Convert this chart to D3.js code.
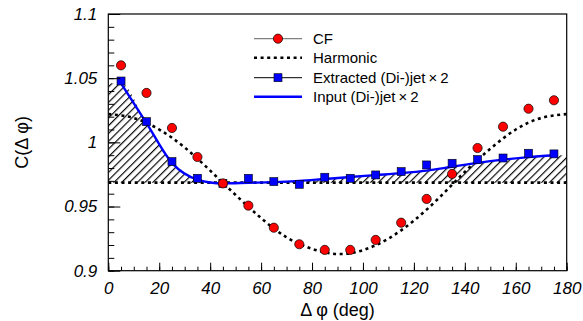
<!DOCTYPE html>
<html><head><meta charset="utf-8">
<script src="https://cdn.jsdelivr.net/npm/d3@7"></script>
<style>
html,body{margin:0;padding:0;background:#fff;}
svg{display:block;font-family:"Liberation Sans",Arial,Helvetica,sans-serif;}
</style></head>
<body>
<svg id="c" width="583" height="321"></svg>
<script>
// ---- data ----
const phi = [5,15,25,35,45,55,65,75,85,95,105,115,125,135,145,155,165,175];
const cfValues = [1.060,1.0385,1.0112,0.9886,0.968,0.9507,0.9335,0.9206,0.9162,0.9162,0.924,0.9374,0.9559,0.9754,0.9956,1.0122,1.0262,1.0328];
const extractedValues = [1.0478,1.0161,0.9850,0.9720,0.9680,0.9720,0.9694,0.9673,0.9728,0.9720,0.9746,0.9772,0.9824,0.9837,0.9866,0.9878,0.9915,0.9910];
const inputValues = [1.046,1.015,0.984,0.971,0.968,0.9685,0.969,0.970,0.9715,0.973,0.9745,0.976,0.978,0.981,0.984,0.9865,0.9885,0.990];
const harmonicPhi = [0,10,20,30,40,50,60,70,80,90,100,110,120,130,140,150,160,170,180];
const harmonicValues = [1.022,1.019,1.010,0.996,0.978,0.959,0.941,0.926,0.917,0.913,0.916,0.925,0.939,0.957,0.977,0.995,1.010,1.019,1.022];
const baselineValue = 0.9686;
const xRange = [0,180];
const yRange = [0.9,1.1];
const xMajorTicks = [0,20,40,60,80,100,120,140,160,180];
const yMajorTicks = [0.9,0.95,1.0,1.05,1.1];
const yTickLabels = ["0.9","0.95","1","1.05","1.1"];
const legendLabels = ["CF","Harmonic","Extracted (Di-)jet\u2009\u00d7\u20092","Input (Di-)jet\u2009\u00d7\u20092"];
const xTitle = "\u0394 \u03c6 (deg)";
const yTitle = "C(\u0394 \u03c6)";

// ---- layout ----
const L=108.3, R=566.7, T=14, B=270.7;
const svg = d3.select("#c");
const x = d3.scaleLinear().domain(xRange).range([L,R]);
const y = d3.scaleLinear().domain(yRange).range([B,T]);

const defs = svg.append("defs");
const pat = defs.append("pattern").attr("id","hatch").attr("patternUnits","userSpaceOnUse")
  .attr("width",5.5).attr("height",5.5).attr("patternTransform","rotate(45)");
pat.append("line").attr("x1",0.6).attr("y1",0).attr("x2",0.6).attr("y2",5.5)
  .attr("stroke","#000").attr("stroke-width",1.15);
defs.append("clipPath").attr("id","plotclip").append("rect")
  .attr("x",L).attr("y",T).attr("width",R-L).attr("height",B-T);

const plot = svg.append("g").attr("clip-path","url(#plotclip)");

// hatched band between baseline and input curve
const bandPts = [[xRange[0], inputValues[0]]].concat(phi.map((p,i)=>[p,inputValues[i]])).concat([[xRange[1], inputValues[inputValues.length-1]]]);
const area = d3.area().x(d=>x(d[0])).y0(y(baselineValue)).y1(d=>y(d[1])).curve(d3.curveMonotoneX);
plot.append("path").datum(bandPts).attr("d",area).attr("fill","url(#hatch)").attr("stroke","none");

// baseline dashed
plot.append("line").attr("x1",x(xRange[0])).attr("x2",x(xRange[1]))
  .attr("y1",y(baselineValue)).attr("y2",y(baselineValue))
  .attr("stroke","#000").attr("stroke-width",2.6).attr("stroke-dasharray","3,3.6");

// harmonic
const hLine = d3.line().x((d,i)=>x(harmonicPhi[i])).y(d=>y(d)).curve(d3.curveNatural);
plot.append("path").datum(harmonicValues).attr("d",hLine).attr("fill","none")
  .attr("stroke","#000").attr("stroke-width",2.6).attr("stroke-dasharray","3,3.6");

// input line
const iLine = d3.line().x((d,i)=>x(phi[i])).y(d=>y(d)).curve(d3.curveMonotoneX);
plot.append("path").datum(inputValues).attr("d",iLine).attr("fill","none")
  .attr("stroke","#0000ff").attr("stroke-width",2.4);

// extracted squares
const sq=8;
plot.selectAll("rect.ex").data(extractedValues).enter().append("rect").attr("class","ex")
  .attr("x",(d,i)=>x(phi[i])-sq/2).attr("y",d=>y(d)-sq/2).attr("width",sq).attr("height",sq)
  .attr("fill","#0000ff").attr("stroke","#000").attr("stroke-width",0.6);

// CF circles
plot.selectAll("circle.cf").data(cfValues).enter().append("circle").attr("class","cf")
  .attr("cx",(d,i)=>x(phi[i])).attr("cy",d=>y(d)).attr("r",4.6)
  .attr("fill","#ff0000").attr("stroke","#000").attr("stroke-width",0.7);

// axes
const fontTick = "italic 17px 'Liberation Sans', Arial, sans-serif";
const yMinor = d3.range(0,21).map(i=>+(yRange[0]+i*0.01).toFixed(3));
const xMinor = d3.range(0,37).map(i=>i*5);

const gy = svg.append("g").attr("transform",`translate(${L},0)`)
  .call(d3.axisLeft(y).tickValues(yMinor).tickSizeInner(-6).tickSizeOuter(0).tickFormat(""));
const gy2 = svg.append("g").attr("transform",`translate(${L},0)`)
  .call(d3.axisLeft(y).tickValues(yMajorTicks).tickSizeInner(-12).tickSizeOuter(0).tickPadding(11)
  .tickFormat((d,i)=>yTickLabels[i]));
const gx = svg.append("g").attr("transform",`translate(0,${B})`)
  .call(d3.axisBottom(x).tickValues(xMinor).tickSizeInner(-4).tickSizeOuter(0).tickFormat(""));
const gx2 = svg.append("g").attr("transform",`translate(0,${B})`)
  .call(d3.axisBottom(x).tickValues(xMajorTicks).tickSizeInner(-8).tickSizeOuter(0).tickPadding(11)
  .tickFormat(d3.format("d")));
[gy,gy2,gx,gx2].forEach(g=>{
  g.select(".domain").remove();
  g.selectAll("line").attr("stroke","#000").attr("stroke-width",1);
  g.selectAll("text").attr("fill","#000").style("font",fontTick);
});

// frame
svg.append("rect").attr("x",L).attr("y",T).attr("width",R-L).attr("height",B-T)
  .attr("fill","none").attr("stroke","#000").attr("stroke-width",1.2);

// titles
svg.append("text").attr("x",(L+R)/2).attr("y",316).attr("text-anchor","middle")
  .style("font","18px 'Liberation Sans', Arial, sans-serif").text(xTitle);
svg.append("text").attr("transform",`translate(28,${(T+B)/2}) rotate(-90)`).attr("text-anchor","middle")
  .style("font","18px 'Liberation Sans', Arial, sans-serif").text(yTitle);

// legend
const lx0=254, lx1=302, ltx=313;
const ly = [38.7,57.7,77.7,96.7];
const lg = svg.append("g");
// CF
lg.append("line").attr("x1",lx0).attr("x2",lx1).attr("y1",ly[0]).attr("y2",ly[0]).attr("stroke","#808080").attr("stroke-width",1.2);
lg.append("circle").attr("cx",(lx0+lx1)/2).attr("cy",ly[0]).attr("r",4.6).attr("fill","#ff0000").attr("stroke","#000").attr("stroke-width",0.7);
// Harmonic
lg.append("line").attr("x1",lx0).attr("x2",lx1).attr("y1",ly[1]).attr("y2",ly[1]).attr("stroke","#000").attr("stroke-width",2.6).attr("stroke-dasharray","3,3.6");
// Extracted
lg.append("line").attr("x1",lx0).attr("x2",lx1).attr("y1",ly[2]).attr("y2",ly[2]).attr("stroke","#000").attr("stroke-width",1);
lg.append("rect").attr("x",(lx0+lx1)/2-sq/2).attr("y",ly[2]-sq/2).attr("width",sq).attr("height",sq).attr("fill","#0000ff").attr("stroke","#000").attr("stroke-width",0.6);
// Input
lg.append("line").attr("x1",lx0).attr("x2",lx1).attr("y1",ly[3]).attr("y2",ly[3]).attr("stroke","#0000ff").attr("stroke-width",2.4);
lg.selectAll("text").data(legendLabels).enter().append("text")
  .attr("x",ltx).attr("y",(d,i)=>ly[i]).attr("dy","0.36em")
  .style("font","15px 'Liberation Sans', Arial, sans-serif").text(d=>d);
</script>
</body></html>
